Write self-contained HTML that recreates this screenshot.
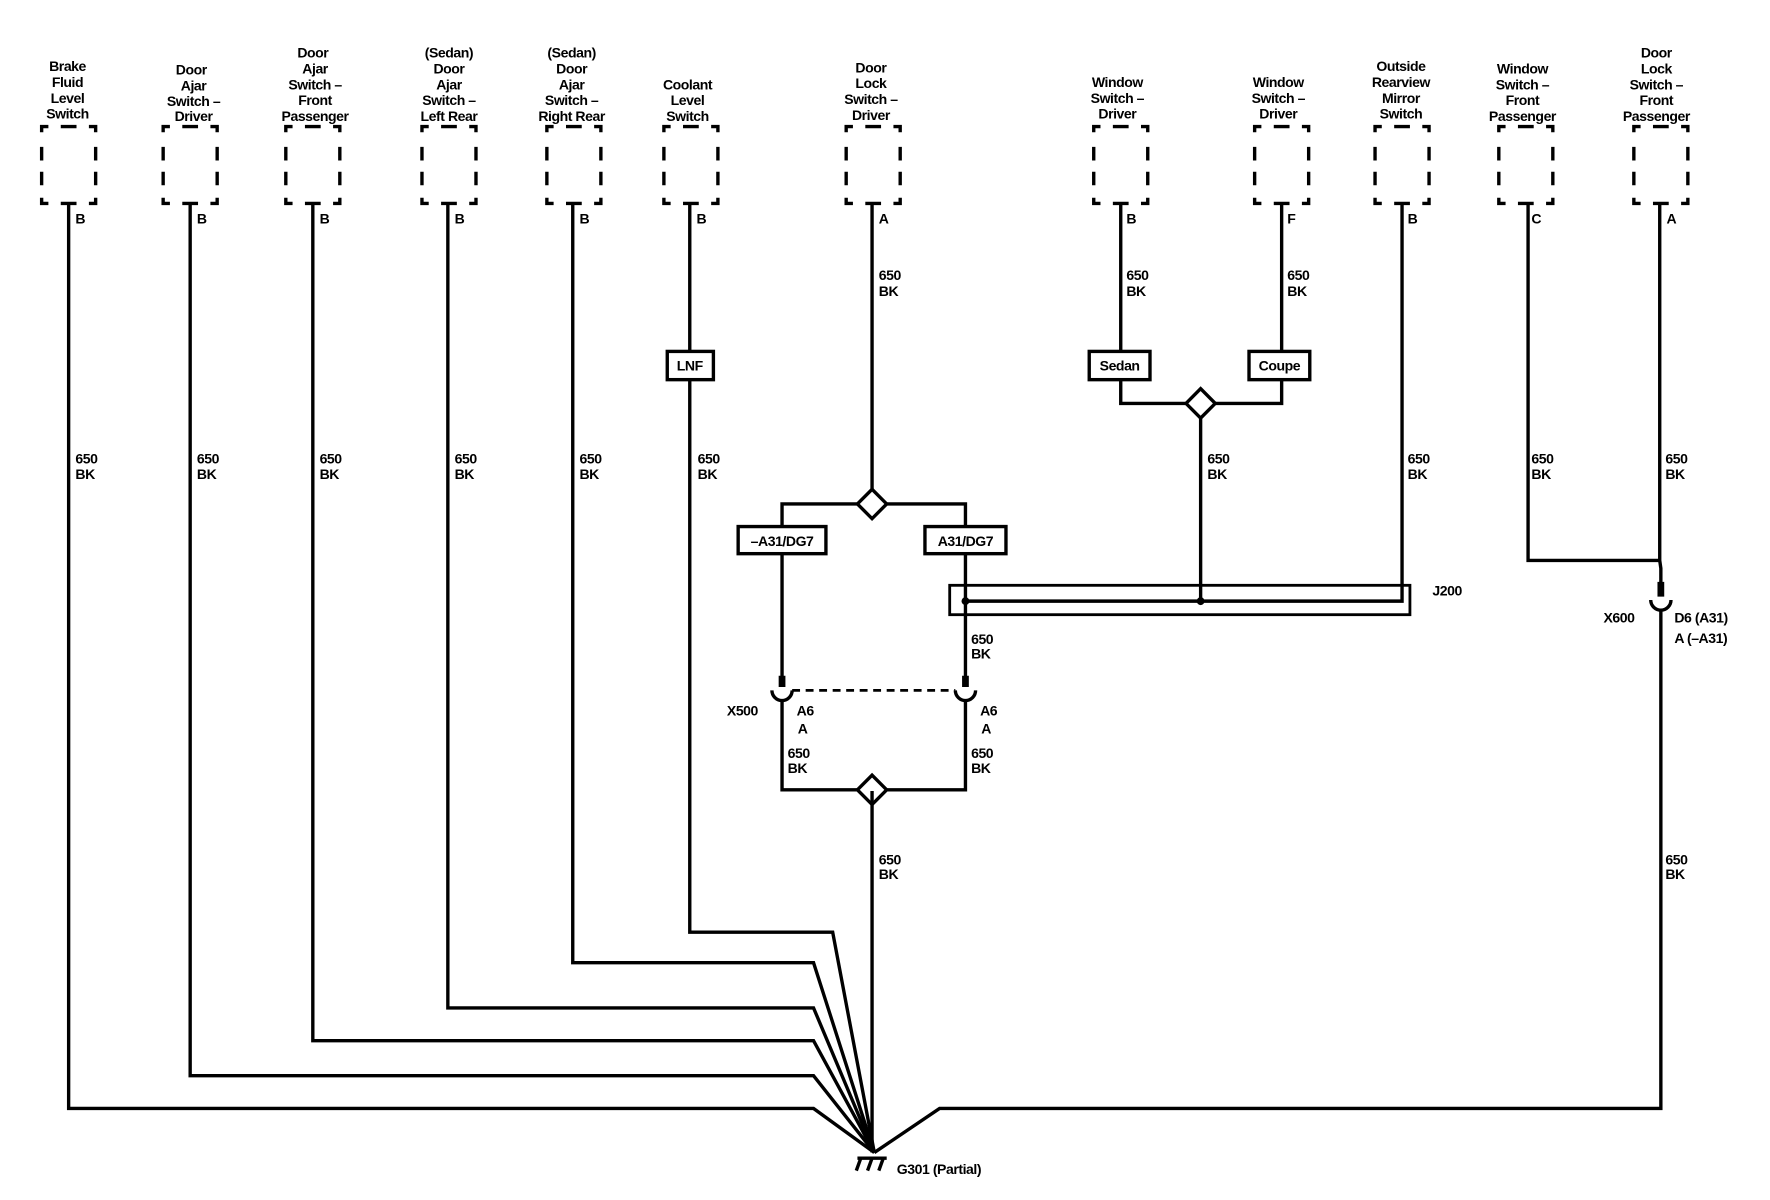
<!DOCTYPE html>
<html><head><meta charset="utf-8"><style>
html,body{margin:0;padding:0;background:#fff;}
svg{display:block}
text{font-family:"Liberation Sans",Arial,sans-serif;font-size:12.5px;font-weight:bold;fill:#000;letter-spacing:-0.4px}
.c{text-anchor:middle}
</style></head><body>
<svg width="1770" height="1200" viewBox="0 0 1573 1062" preserveAspectRatio="none" xmlns="http://www.w3.org/2000/svg">
<g fill="none" stroke="#000" stroke-width="3">
<!-- dashed boxes -->
<g id="boxes">
</g>
</g>
<script>
</script>
<g fill="none" stroke="#000" stroke-width="3" stroke-linejoin="miter">
<!-- boxes drawn as paths -->
<path d="
M37,117 V112 H43 M54,112 H68 M79,112 H85 V117 M37,130 V142 M37,152 V164 M85,130 V142 M85,152 V164 M37,175 V180 H43 M54,180 H68 M79,180 H85 V175
M145,117 V112 H151 M162,112 H176 M187,112 H193 V117 M145,130 V142 M145,152 V164 M193,130 V142 M193,152 V164 M145,175 V180 H151 M162,180 H176 M187,180 H193 V175
M254,117 V112 H260 M271,112 H285 M296,112 H302 V117 M254,130 V142 M254,152 V164 M302,130 V142 M302,152 V164 M254,175 V180 H260 M271,180 H285 M296,180 H302 V175
M375,117 V112 H381 M392,112 H406 M417,112 H423 V117 M375,130 V142 M375,152 V164 M423,130 V142 M423,152 V164 M375,175 V180 H381 M392,180 H406 M417,180 H423 V175
M486,117 V112 H492 M503,112 H517 M528,112 H534 V117 M486,130 V142 M486,152 V164 M534,130 V142 M534,152 V164 M486,175 V180 H492 M503,180 H517 M528,180 H534 V175
M590,117 V112 H596 M607,112 H621 M632,112 H638 V117 M590,130 V142 M590,152 V164 M638,130 V142 M638,152 V164 M590,175 V180 H596 M607,180 H621 M632,180 H638 V175
M752,117 V112 H758 M769,112 H783 M794,112 H800 V117 M752,130 V142 M752,152 V164 M800,130 V142 M800,152 V164 M752,175 V180 H758 M769,180 H783 M794,180 H800 V175
M972,117 V112 H978 M989,112 H1003 M1014,112 H1020 V117 M972,130 V142 M972,152 V164 M1020,130 V142 M1020,152 V164 M972,175 V180 H978 M989,180 H1003 M1014,180 H1020 V175
M1115,117 V112 H1121 M1132,112 H1146 M1157,112 H1163 V117 M1115,130 V142 M1115,152 V164 M1163,130 V142 M1163,152 V164 M1115,175 V180 H1121 M1132,180 H1146 M1157,180 H1163 V175
M1222,117 V112 H1228 M1239,112 H1253 M1264,112 H1270 V117 M1222,130 V142 M1222,152 V164 M1270,130 V142 M1270,152 V164 M1222,175 V180 H1228 M1239,180 H1253 M1264,180 H1270 V175
M1332,117 V112 H1338 M1349,112 H1363 M1374,112 H1380 V117 M1332,130 V142 M1332,152 V164 M1380,130 V142 M1380,152 V164 M1332,175 V180 H1338 M1349,180 H1363 M1374,180 H1380 V175
M1452,117 V112 H1458 M1469,112 H1483 M1494,112 H1500 V117 M1452,130 V142 M1452,152 V164 M1500,130 V142 M1500,152 V164 M1452,175 V180 H1458 M1469,180 H1483 M1494,180 H1500 V175
"/>
<!-- ground bundle -->
<path d="M61,180 V981 H723 L777,1020"/>
<path d="M169,180 V952 H723 L777,1020"/>
<path d="M278,180 V921 H723 L777,1020"/>
<path d="M398,180 V892 H723 L777,1020"/>
<path d="M509,180 V852 H723 L777,1020"/>
<path d="M613,180 V311 M613,336 V825 H740 L777,1020"/>
<path d="M1476,540 V981 H835 L777,1020"/>
<path d="M775,700 V1020"/>
<!-- door lock driver -->
<path d="M775,180 V433"/>
<path d="M762,446 L775,433 L788,446 L775,459 Z"/>
<path d="M762,446 H695 V466 M788,446 H858 V466"/>
<path d="M695,490 V600 M858,490 V600"/>
<path d="M686,611 A9,9 0 0 0 704,611 M849,611 A9,9 0 0 0 867,611"/>
<path d="M695,620 V699 H762 M858,620 V699 H788"/>
<path d="M762,699 L775,686 L788,699 L775,712 Z"/>
<!-- window switches -->
<path d="M996,180 V311 M996,336 V357 H1054 M1139,180 V311 M1139,336 V357 H1080"/>
<path d="M1054,357 L1067,344 L1080,357 L1067,370 Z"/>
<path d="M1067,370 V532"/>
<path d="M1246,180 V532 H858"/>
<!-- right side -->
<path d="M1358,180 V496 H1475 M1475,180 V496 L1476,503 V521"/>
<path d="M1467,531 A9,9 0 0 0 1485,531"/>
<!-- ground symbol -->
<path d="M762,1025 H788 M765,1025 L761,1036 M775,1025 L771,1036 M785,1025 L781,1036"/>
</g>
<g fill="none" stroke="#000" stroke-width="6">
<path d="M695,598 V608 M858,598 V608 M1476,515 V528"/>
</g>
<path d="M704,611 H849" fill="none" stroke="#000" stroke-width="2.5" stroke-dasharray="7 5"/>
<!-- J200 -->
<rect x="844" y="518" width="409" height="26" fill="none" stroke="#000" stroke-width="2.5"/>
<circle cx="858" cy="532" r="3.5"/>
<circle cx="1067" cy="532" r="3.5"/>
<!-- label boxes -->
<g fill="#fff" stroke="#000" stroke-width="3">
<rect x="593" y="311" width="41" height="25"/>
<rect x="968" y="311" width="54" height="25"/>
<rect x="1110" y="311" width="54" height="25"/>
<rect x="656" y="466" width="78" height="24"/>
<rect x="822" y="466" width="72" height="24"/>
</g>
<text x="613" y="328" class="c">LNF</text>
<text x="995" y="328" class="c">Sedan</text>
<text x="1137" y="328" class="c">Coupe</text>
<text x="695" y="483" class="c">–A31/DG7</text>
<text x="858" y="483" class="c">A31/DG7</text>
<!-- top labels -->
<g class="c">
<text x="60" y="63" class="c">Brake</text><text x="60" y="77" class="c">Fluid</text><text x="60" y="91" class="c">Level</text><text x="60" y="105" class="c">Switch</text>
<text x="170" y="66" class="c">Door</text><text x="172" y="80" class="c">Ajar</text><text x="172" y="94" class="c">Switch –</text><text x="172" y="107" class="c">Driver</text>
<text x="278" y="51" class="c">Door</text><text x="280" y="65" class="c">Ajar</text><text x="280" y="79" class="c">Switch –</text><text x="280" y="93" class="c">Front</text><text x="280" y="107" class="c">Passenger</text>
<text x="399" y="51" class="c">(Sedan)</text><text x="399" y="65" class="c">Door</text><text x="399" y="79" class="c">Ajar</text><text x="399" y="93" class="c">Switch –</text><text x="399" y="107" class="c">Left Rear</text>
<text x="508" y="51" class="c">(Sedan)</text><text x="508" y="65" class="c">Door</text><text x="508" y="79" class="c">Ajar</text><text x="508" y="93" class="c">Switch –</text><text x="508" y="107" class="c">Right Rear</text>
<text x="611" y="79" class="c">Coolant</text><text x="611" y="93" class="c">Level</text><text x="611" y="107" class="c">Switch</text>
<text x="774" y="64" class="c">Door</text><text x="774" y="78" class="c">Lock</text><text x="774" y="92" class="c">Switch –</text><text x="774" y="106" class="c">Driver</text>
<text x="993" y="77" class="c">Window</text><text x="993" y="91" class="c">Switch –</text><text x="993" y="105" class="c">Driver</text>
<text x="1136" y="77" class="c">Window</text><text x="1136" y="91" class="c">Switch –</text><text x="1136" y="105" class="c">Driver</text>
<text x="1245" y="63" class="c">Outside</text><text x="1245" y="77" class="c">Rearview</text><text x="1245" y="91" class="c">Mirror</text><text x="1245" y="105" class="c">Switch</text>
<text x="1353" y="65" class="c">Window</text><text x="1353" y="79" class="c">Switch –</text><text x="1353" y="93" class="c">Front</text><text x="1353" y="107" class="c">Passenger</text>
<text x="1472" y="51" class="c">Door</text><text x="1472" y="65" class="c">Lock</text><text x="1472" y="79" class="c">Switch –</text><text x="1472" y="93" class="c">Front</text><text x="1472" y="107" class="c">Passenger</text>
</g>
<!-- pin letters -->
<text x="67" y="198">B</text><text x="175" y="198">B</text><text x="284" y="198">B</text><text x="404" y="198">B</text><text x="515" y="198">B</text><text x="619" y="198">B</text><text x="781" y="198">A</text><text x="1001" y="198">B</text><text x="1144" y="198">F</text><text x="1251" y="198">B</text><text x="1361" y="198">C</text><text x="1481" y="198">A</text>
<!-- wire labels -->
<text x="67" y="410">650</text><text x="67" y="424">BK</text>
<text x="175" y="410">650</text><text x="175" y="424">BK</text>
<text x="284" y="410">650</text><text x="284" y="424">BK</text>
<text x="404" y="410">650</text><text x="404" y="424">BK</text>
<text x="515" y="410">650</text><text x="515" y="424">BK</text>
<text x="620" y="410">650</text><text x="620" y="424">BK</text>
<text x="1073" y="410">650</text><text x="1073" y="424">BK</text>
<text x="1251" y="410">650</text><text x="1251" y="424">BK</text>
<text x="1361" y="410">650</text><text x="1361" y="424">BK</text>
<text x="1480" y="410">650</text><text x="1480" y="424">BK</text>
<text x="781" y="248">650</text><text x="781" y="262">BK</text>
<text x="1001" y="248">650</text><text x="1001" y="262">BK</text>
<text x="1144" y="248">650</text><text x="1144" y="262">BK</text>
<text x="781" y="765">650</text><text x="781" y="778">BK</text>
<text x="1480" y="765">650</text><text x="1480" y="778">BK</text>
<text x="863" y="570">650</text><text x="863" y="583">BK</text>
<text x="700" y="671">650</text><text x="700" y="684">BK</text>
<text x="863" y="671">650</text><text x="863" y="684">BK</text>
<text x="646" y="633">X500</text>
<text x="708" y="633">A6</text><text x="709" y="649">A</text>
<text x="871" y="633">A6</text><text x="872" y="649">A</text>
<text x="1273" y="527">J200</text>
<text x="1425" y="551">X600</text>
<text x="1488" y="551">D6 (A31)</text>
<text x="1488" y="569">A (–A31)</text>
<text x="797" y="1039">G301 (Partial)</text>
</svg>
</body></html>
